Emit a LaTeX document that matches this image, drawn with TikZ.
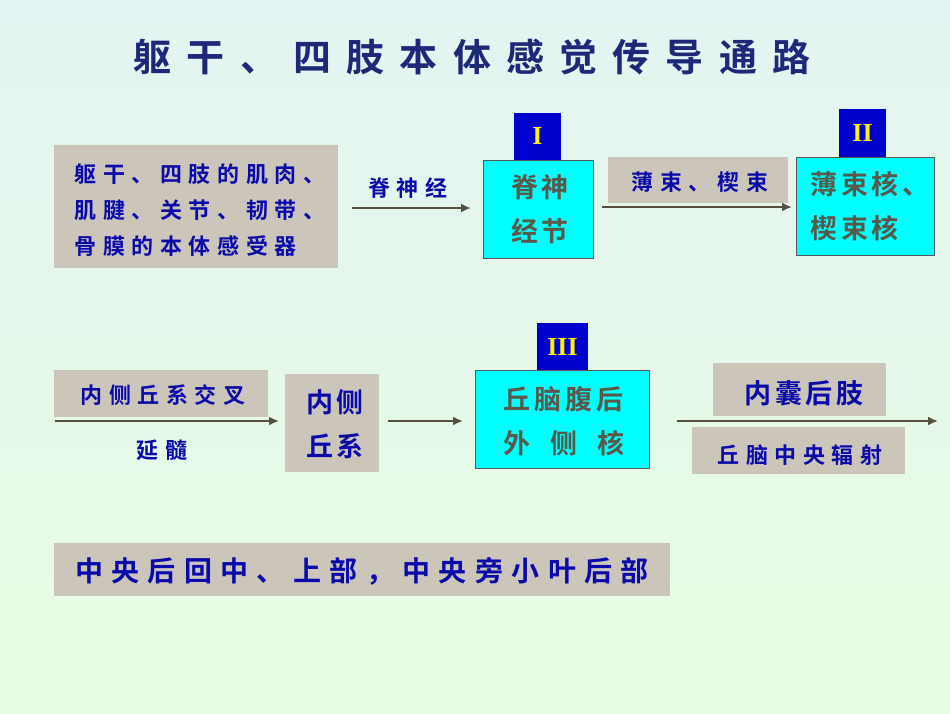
\documentclass[tikz,border=0pt]{standalone}
\usepackage{fontspec}
\usetikzlibrary{arrows.meta}
\newfontfamily\cjk[LetterSpace=30]{Noto Sans CJK SC Bold}
\newfontfamily\cjkt[LetterSpace=40]{Noto Sans CJK SC Bold}
\newfontfamily\cjkc[LetterSpace=14]{Noto Sans CJK SC Bold}
\setmainfont{Liberation Serif}
\definecolor{bgtop}{RGB}{228,244,242}
\definecolor{bgbot}{RGB}{232,252,226}
\definecolor{graybox}{RGB}{204,198,186}
\definecolor{cyanbox}{RGB}{0,255,255}
\definecolor{txtblue}{RGB}{10,10,170}
\definecolor{txtgray}{RGB}{90,88,72}
\definecolor{titleblue}{RGB}{30,40,120}
\definecolor{arr}{RGB}{85,80,64}
\definecolor{numblue}{RGB}{0,0,204}
\begin{document}
\begin{tikzpicture}[x=1pt,y=-1pt,
  cbox/.style={draw=gray!70!black,line width=0.8pt},
  nbox/.style={fill=numblue,draw=none},
  gt/.style={font=\cjk\fontsize{22}{36}\selectfont,text=txtblue,align=left},
  ct/.style={font=\cjkc\fontsize{27}{44}\selectfont,text=txtgray,align=left},
  nt/.style={font=\bfseries\fontsize{26}{26}\selectfont,text=yellow},
  link/.style={draw=arr,line width=2.5pt,-{Latex[length=10pt,width=9pt]}}]
\shade[top color=bgtop,bottom color=bgbot] (0,0) rectangle (950,713);
\useasboundingbox (0,0) rectangle (950,713);
\node[font=\cjkt\fontsize{38}{38}\selectfont,text=titleblue] (title) at (472,57) {躯干、四肢本体感觉传导通路};
% row 1
\fill[graybox] (54,145) rectangle (338,268);
\node[gt] (rec) at (200,210) {躯干、四肢的肌肉、\\肌腱、关节、韧带、\\骨膜的本体感受器};
\fill[cyanbox] (483,160) rectangle (593,258); \draw[cbox] (483,160) rectangle (593,258);
\node[ct] (g1) at (540,209) {脊神\\经节};
\fill[nbox] (514,113) rectangle (561,160); \node[nt] (n1) at (537.5,136) {I};
\fill[graybox] (608,157) rectangle (788,203);
\node[gt] (bs) at (700,182) {薄束、楔束};
\fill[cyanbox] (796,157) rectangle (934,255); \draw[cbox] (796,157) rectangle (934,255);
\node[ct] (g2) at (870,206) {薄束核、\\楔束核};
\fill[nbox] (839,109) rectangle (886,157); \node[nt] (n2) at (862.5,133) {II};
\node[gt] (sn) at (408,188) {脊神经};
\coordinate (a1s) at (352,208); \coordinate (a1e) at (471,208);
\draw[link] (a1s) -- (a1e);
\coordinate (a2s) at (602,207); \coordinate (a2e) at (792,207);
\draw[link] (a2s) -- (a2e);
% row 2
\fill[graybox] (54,370) rectangle (268,417);
\node[gt] (cx) at (163,395) {内侧丘系交叉};
\coordinate (a3s) at (55,421); \coordinate (a3e) at (279,421);
\draw[link] (a3s) -- (a3e);
\node[gt] (ys) at (162,450) {延髓};
\fill[graybox] (285,374) rectangle (379,472);
\node[ct,text=txtblue] (ml) at (335,424) {内侧\\丘系};
\coordinate (a4s) at (388,421); \coordinate (a4e) at (463,421);
\draw[link] (a4s) -- (a4e);
\fill[cyanbox] (475,370) rectangle (649,468); \draw[cbox] (475,370) rectangle (649,468);
\node[ct] (g3) at (564,421) {丘脑腹后\\外\ \ 侧\ \ 核};
\fill[nbox] (537,323) rectangle (588,370); \node[nt] (n3) at (562.5,347) {III};
\coordinate (a5s) at (677,421); \coordinate (a5e) at (938,421);
\draw[link] (a5s) -- (a5e);
\fill[graybox] (713,363) rectangle (886,416);
\node[ct,text=txtblue] (nn) at (804,393) {内囊后肢};
\fill[graybox] (692,427) rectangle (905,474);
\node[gt] (qf) at (800,455) {丘脑中央辐射};
% bottom
\fill[graybox] (54,543) rectangle (670,596);
\node[ct,font=\cjk\fontsize{28}{40}\selectfont,text=txtblue] (ctx) at (362,571) {中央后回中、上部，中央旁小叶后部};
\end{tikzpicture}
\end{document}
